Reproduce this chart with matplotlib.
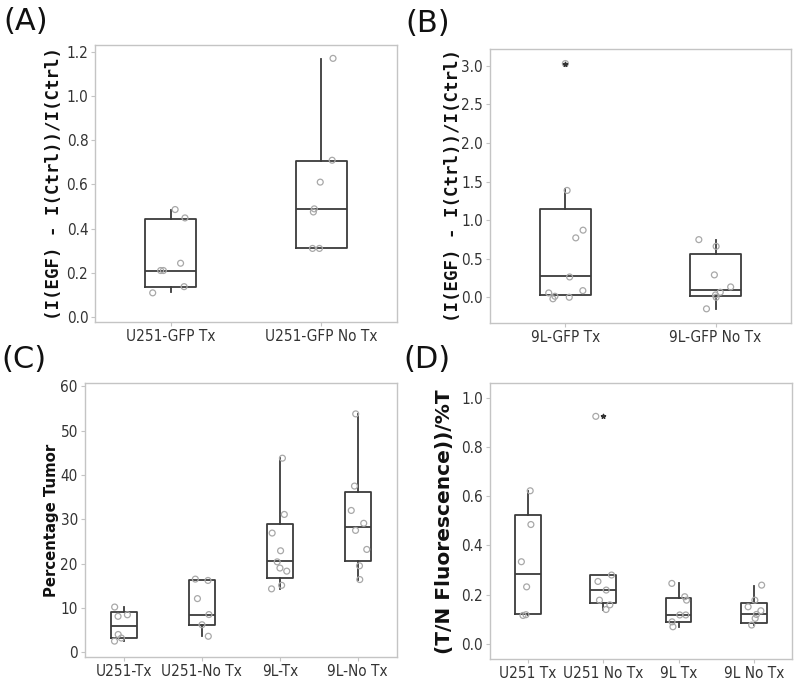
import numpy as np
import matplotlib
matplotlib.use("Agg")
import matplotlib.pyplot as plt
from matplotlib import font_manager as fm

# ---- panel A ----
a_groups = ["U251-GFP Tx", "U251-GFP No Tx"]
a_points = [
    [0.486, 0.448, 0.243, 0.21, 0.21, 0.137, 0.109],
    [1.17, 0.709, 0.61, 0.489, 0.475, 0.31, 0.31],
]
a_q1 = [0.135, 0.31]
a_med = [0.21, 0.49]
a_q3 = [0.445, 0.707]
a_lo = [0.115, 0.31]
a_hi = [0.483, 1.165]
a_out = [[], []]

# ---- panel B ----
b_groups = ["9L-GFP Tx", "9L-GFP No Tx"]
b_points = [
    [3.03, 1.385, 0.87, 0.77, 0.263, 0.086, 0.013, -0.02, 0.0, 0.056],
    [0.747, 0.66, 0.29, 0.134, 0.065, 0.0, 0.03, -0.15],
]
b_q1 = [0.035, 0.01]
b_med = [0.27, 0.1]
b_q3 = [1.14, 0.565]
b_lo = [0.035, -0.15]
b_hi = [1.4, 0.74]
b_out = [[3.03], []]

# ---- panel C ----
c_groups = ["U251-Tx", "U251-No Tx", "9L-Tx", "9L-No Tx"]
c_points = [
    [10.2, 8.1, 8.45, 4.0, 3.2, 2.5],
    [16.2, 16.5, 12.1, 8.5, 6.2, 3.6],
    [43.8, 31.1, 26.9, 22.9, 19.0, 18.3, 20.4, 15.1, 14.3],
    [53.8, 37.5, 32.0, 29.1, 27.5, 23.2, 19.5, 16.4],
]
c_q1 = [3.1, 6.2, 16.7, 20.5]
c_med = [6.0, 8.4, 20.5, 28.2]
c_q3 = [9.0, 16.2, 29.0, 36.2]
c_lo = [2.5, 3.6, 14.3, 16.4]
c_hi = [10.2, 16.2, 43.8, 53.8]
c_out = [[], [], [], []]

# ---- panel D ----
d_groups = ["U251 Tx", "U251 No Tx", "9L Tx", "9L No Tx"]
d_points = [
    [0.622, 0.485, 0.334, 0.232, 0.116, 0.119],
    [0.924, 0.28, 0.254, 0.219, 0.178, 0.159, 0.14],
    [0.246, 0.192, 0.178, 0.118, 0.118, 0.09, 0.07],
    [0.239, 0.178, 0.151, 0.135, 0.12, 0.104, 0.077],
]
d_q1 = [0.12, 0.165, 0.09, 0.087]
d_med = [0.283, 0.219, 0.118, 0.12]
d_q3 = [0.523, 0.28, 0.187, 0.167]
d_lo = [0.116, 0.14, 0.07, 0.077]
d_hi = [0.622, 0.28, 0.246, 0.237]
d_out = [[], [0.924], [], []]

ylabel_ab = "(I(EGF) - I(Ctrl))/I(Ctrl)"

box_col = "#3c3c3c"
pt_col = "#a8a8a8"
frame_col = "#c4c4c4"

# narrow font for tick labels if one is installed
narrow = None
for f in fm.fontManager.ttflist:
    nm = f.name + " " + str(f.stretch)
    if ("Narrow" in nm or "ondensed" in nm) and f.weight in (400, "normal", "regular") and f.style == "normal":
        narrow = f.fname
        break
if narrow:
    tick_font = fm.FontProperties(fname=narrow, size=11)
else:
    tick_font = fm.FontProperties(family="Liberation Sans", size=10)

rng = np.random.default_rng(7)


def draw_panel(ax, groups, points, q1, med, q3, lo, hi, outl, ylabel, ylfont, labx, ylim, yticks, yfmt):
    stats = []
    for i in range(len(groups)):
        stats.append(dict(q1=q1[i], med=med[i], q3=q3[i], whislo=lo[i], whishi=hi[i], fliers=[]))
    pos = np.arange(1, len(groups) + 1)
    ax.bxp(stats, positions=pos, widths=0.34, showcaps=False, showfliers=False,
           boxprops=dict(color=box_col, linewidth=1.3),
           medianprops=dict(color=box_col, linewidth=1.3),
           whiskerprops=dict(color=box_col, linewidth=1.3))
    for p, vals, o in zip(pos, points, outl):
        jit = rng.uniform(-0.12, 0.12, len(vals))
        ax.scatter(p + jit, vals, s=18, facecolors="none", edgecolors=pt_col, linewidths=0.9, zorder=3)
        if o:
            ax.scatter([p] * len(o), o, s=10, marker="*", color="#333333", zorder=4)
    ax.set_xlim(0.5, len(groups) + 0.5)
    ax.set_ylim(*ylim)
    ax.set_yticks(yticks)
    ax.set_yticklabels([yfmt.format(t) for t in yticks], fontproperties=tick_font)
    ax.set_xticks(pos)
    ax.set_xticklabels(groups, fontproperties=tick_font)
    ax.tick_params(axis="both", labelcolor="#333333", color=frame_col, length=3, width=0.8,
                   direction="out", pad=2)
    for s in ax.spines.values():
        s.set_color(frame_col)
        s.set_linewidth(1.0)
    ax.set_ylabel(ylabel, fontproperties=ylfont, color="#111111", va="center")
    ax.yaxis.set_label_coords(labx, 0.5)


fig = plt.figure(figsize=(8, 6.94), dpi=100)

font_ab = fm.FontProperties(family="DejaVu Sans Mono", weight="bold", size=12.5)
font_c = fm.FontProperties(family="DejaVu Sans", weight="bold", size=10.7)
font_d = fm.FontProperties(family="DejaVu Sans", weight="bold", size=14.5)

axA = fig.add_axes([0.119, 0.536, 0.377, 0.399])
draw_panel(axA, a_groups, a_points, a_q1, a_med, a_q3, a_lo, a_hi, a_out, ylabel_ab, font_ab, -0.136,
           (-0.023, 1.23), [0.0, 0.2, 0.4, 0.6, 0.8, 1.0, 1.2], "{:.1f}")

axB = fig.add_axes([0.6125, 0.535, 0.376, 0.394])
draw_panel(axB, b_groups, b_points, b_q1, b_med, b_q3, b_lo, b_hi, b_out, ylabel_ab, font_ab, -0.123,
           (-0.33, 3.215), [0.0, 0.5, 1.0, 1.5, 2.0, 2.5, 3.0], "{:.1f}")

axC = fig.add_axes([0.106, 0.053, 0.390, 0.395])
draw_panel(axC, c_groups, c_points, c_q1, c_med, c_q3, c_lo, c_hi, c_out, "Percentage Tumor", font_c, -0.106,
           (-1.13, 60.75), [0, 10, 20, 30, 40, 50, 60], "{:d}")

axD = fig.add_axes([0.6125, 0.050, 0.377, 0.398])
draw_panel(axD, d_groups, d_points, d_q1, d_med, d_q3, d_lo, d_hi, d_out, "(T/N Fluorescence))/%T", font_d, -0.152,
           (-0.062, 1.059), [0.0, 0.2, 0.4, 0.6, 0.8, 1.0], "{:.1f}")

for lbl, x, y in [("(A)", 0.004, 0.99), ("(B)", 0.507, 0.987), ("(C)", 0.002, 0.503), ("(D)", 0.504, 0.503)]:
    fig.text(x, y, lbl, fontsize=22, family="DejaVu Sans", va="top", ha="left", color="#111111")

fig.savefig("out.png", dpi=100)
